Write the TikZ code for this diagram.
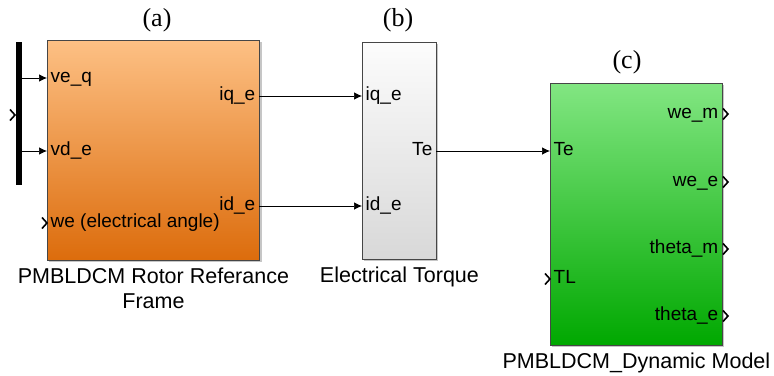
\documentclass[tikz,border=0pt]{standalone}
\usepackage{fontspec}
\setmainfont{Liberation Sans}
\newfontfamily\capfont{Liberation Serif}
\usetikzlibrary{arrows.meta,positioning}
\definecolor{orgtop}{RGB}{253,192,132}
\definecolor{orgbot}{RGB}{220,108,12}
\definecolor{grntop}{RGB}{130,230,130}
\definecolor{grnbot}{RGB}{0,168,0}
\definecolor{grytop}{RGB}{252,252,252}
\definecolor{grybot}{RGB}{216,216,216}
\definecolor{edge}{RGB}{70,70,70}

\begin{document}
\begin{tikzpicture}[x=1pt,y=-1pt,
 blk/.style={draw=edge,line width=0.9pt,anchor=north west,inner sep=0pt},
 prt/.style={font=\fontsize{19}{19}\selectfont,inner xsep=3.5pt,inner ysep=0pt,text height=1.7ex,text depth=0ex},
 blkname/.style={font=\fontsize{21.5}{25}\selectfont,align=center,below=5.5pt,inner sep=1pt},
 tag/.style={font=\capfont\fontsize{26}{26}\selectfont},
 sig/.style={-{Latex[length=8pt,width=7.5pt]},line width=0.7pt},
 chevron/.pic={\draw[line width=1.6pt] (-5,-5.5) -- (0,0) -- (-5,5.5);}]
\useasboundingbox (0,0) rectangle (774,375);
% blocks
\fill[gray!45] (49,42) rectangle (262,262);
\node[blk,top color=orgtop,bottom color=orgbot,minimum width=212pt,minimum height=220pt] (rf) at (47,40) {};
\fill[gray!45] (364,44) rectangle (438,261);
\node[blk,top color=grytop,bottom color=grybot,minimum width=74pt,minimum height=217pt] (tq) at (362,42) {};
\fill[gray!45] (552,85) rectangle (724,347);
\node[blk,top color=grntop,bottom color=grnbot,minimum width=172pt,minimum height=262pt] (dm) at (550,83) {};
% mux bar
\fill (16,42) rectangle (22,185);
\coordinate (mux1) at (22,78);
\coordinate (mux2) at (22,151);
\pic at (15,115) {chevron};
% ports of (a)
\node[prt,anchor=west] (veq) at (47,78) {ve\_q};
\node[prt,anchor=west] (vde) at (47,151) {vd\_e};
\node[prt,anchor=west] (we) at (47,223) {we (electrical angle)};
\node[prt,anchor=east] (iqo) at (259,96) {iq\_e};
\node[prt,anchor=east] (ido) at (259,206) {id\_e};
\pic at (47,223) {chevron};
% ports of (b)
\node[prt,anchor=west] (iqi) at (362,96) {iq\_e};
\node[prt,anchor=west] (idi) at (362,206) {id\_e};
\node[prt,anchor=east] (teo) at (436,151) {Te};
% ports of (c)
\node[prt,anchor=west] (tei) at (550,151) {Te};
\node[prt,anchor=west] (tl) at (550,279) {TL};
\node[prt,anchor=east] (wem) at (722,114) {we\_m};
\node[prt,anchor=east] (wee) at (722,182) {we\_e};
\node[prt,anchor=east] (thm) at (722,249) {theta\_m};
\node[prt,anchor=east] (the) at (722,316) {theta\_e};
\pic at (550,279) {chevron};
\foreach \y in {114,182,249,316} {\pic at (728,\y) {chevron};}
% signals
\draw[sig] (mux1) -- (veq.west);
\draw[sig] (mux2) -- (vde.west);
\draw[sig] (iqo.east) -- (iqi.west);
\draw[sig] (ido.east) -- (idi.west);
\draw[sig] (teo.east) -- (tei.west);
% captions
\node[blkname] at (rf.south) {PMBLDCM Rotor Referance\\Frame};
\node[blkname] at (tq.south) {Electrical Torque};
\node[blkname] at (dm.south) {PMBLDCM\_Dynamic Model};
\node[tag] (ta) at (157,20) {(a)};
\node[tag] (tb) at (398,20) {(b)};
\node[tag] (tc) at (627,62) {(c)};
\end{tikzpicture}
\end{document}
